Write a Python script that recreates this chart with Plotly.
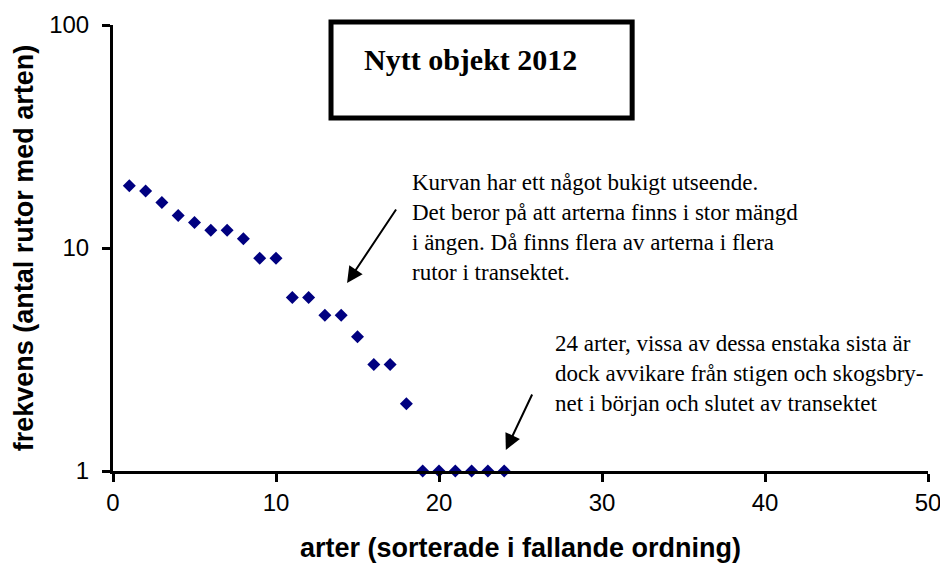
import plotly.graph_objects as go

# data
arter = list(range(1, 25))
frekvens = [19, 18, 16, 14, 13, 12, 12, 11, 9, 9, 6, 6, 5, 5, 4, 3, 3, 2, 1, 1, 1, 1, 1, 1]
x_ticks = [0, 10, 20, 30, 40, 50]
y_ticks = [1, 10, 100]
y_ticktext = ["1", "10", "100"]

title_text = "Nytt objekt 2012"
note1 = ("Kurvan har ett något bukigt utseende.<br>"
         "Det beror på att arterna finns i stor mängd<br>"
         "i ängen. Då finns flera av arterna i flera<br>"
         "rutor i transektet.")
note2 = ("24 arter, vissa av dessa enstaka sista är<br>"
         "dock avvikare från stigen och skogsbry-<br>"
         "net i början och slutet av transektet")

fig = go.Figure()
fig.add_trace(go.Scatter(
    x=arter, y=frekvens, mode="markers",
    marker=dict(symbol="diamond", size=10, color="#000080",
                line=dict(width=0)),
    showlegend=False, cliponaxis=False,
))
# same data bound to the label axis (draws nothing; only activates yaxis2)
fig.add_trace(go.Scatter(
    x=arter, y=frekvens, yaxis="y2", mode="none",
    hoverinfo="skip", showlegend=False,
))

axis_font = dict(family="Liberation Sans", size=24, color="black")
title_font = dict(family="Liberation Sans", size=27, color="black")

fig.update_layout(
    width=940, height=565,
    template="none",
    paper_bgcolor="white", plot_bgcolor="white",
    margin=dict(l=113, r=12, t=25, b=94),
    xaxis=dict(
        range=[0, 50], tickvals=x_ticks, showgrid=False, zeroline=False,
        showline=True, linecolor="black", linewidth=3,
        ticks="outside", ticklen=8, tickwidth=3, tickcolor="black",
        tickfont=axis_font, automargin=False, ticklabeloverflow="allow",
        title=dict(text="<b>arter (sorterade i fallande ordning)</b>",
                   font=title_font, standoff=24),
    ),
    # main y axis: line and tick marks
    yaxis=dict(
        type="log", range=[0, 2], tickvals=y_ticks,
        showticklabels=False,
        showgrid=False, zeroline=False,
        showline=True, linecolor="black", linewidth=3,
        ticks="outside", ticklen=8, tickwidth=3, tickcolor="black",
        automargin=False,
    ),
    # overlay y axis: tick labels (set a little further from the line) and title
    yaxis2=dict(
        type="log", range=[0, 2], overlaying="y", side="left",
        tickvals=y_ticks, ticktext=y_ticktext,
        showgrid=False, zeroline=False, showline=False,
        ticks="outside", ticklen=18, tickwidth=1, tickcolor="rgba(0,0,0,0)",
        tickfont=axis_font, automargin=False, ticklabeloverflow="allow",
        title=dict(text="<b>frekvens (antal rutor med arten)</b>",
                   font=title_font, standoff=7),
    ),
)

# title box
fig.add_shape(type="rect", xref="paper", yref="paper",
              x0=0.2675, x1=0.637, y0=0.7915, y1=1.0067,
              line=dict(color="black", width=5), fillcolor="white")
fig.add_annotation(xref="paper", yref="paper", x=0.4387, y=0.922,
                   text="<b>" + title_text + "</b>", showarrow=False,
                   font=dict(family="Liberation Serif", size=30, color="black"),
                   xanchor="center", yanchor="middle")

serif = dict(family="Liberation Serif", size=23, color="black")
fig.add_annotation(xref="paper", yref="paper", x=0.3644, y=0.545,
                   text=note1, showarrow=False, font=serif,
                   xanchor="left", yanchor="middle", align="left")
fig.add_annotation(xref="paper", yref="paper", x=0.54, y=0.2175,
                   text=note2, showarrow=False, font=serif,
                   xanchor="left", yanchor="middle", align="left")

# arrows (head position in data coords, log10 for y)
fig.add_annotation(x=14.36, y=0.843, xref="x", yref="y", text="",
                   showarrow=True, ax=50, ay=-75, arrowhead=2,
                   arrowsize=1.6, arrowwidth=2, arrowcolor="black")
fig.add_annotation(x=24.1, y=0.094, xref="x", yref="y", text="",
                   showarrow=True, ax=27, ay=-57, arrowhead=2,
                   arrowsize=1.6, arrowwidth=2, arrowcolor="black")

fig.write_html("out.html", config={"displayModeBar": False},
               post_script="document.body.style.margin='0';")
